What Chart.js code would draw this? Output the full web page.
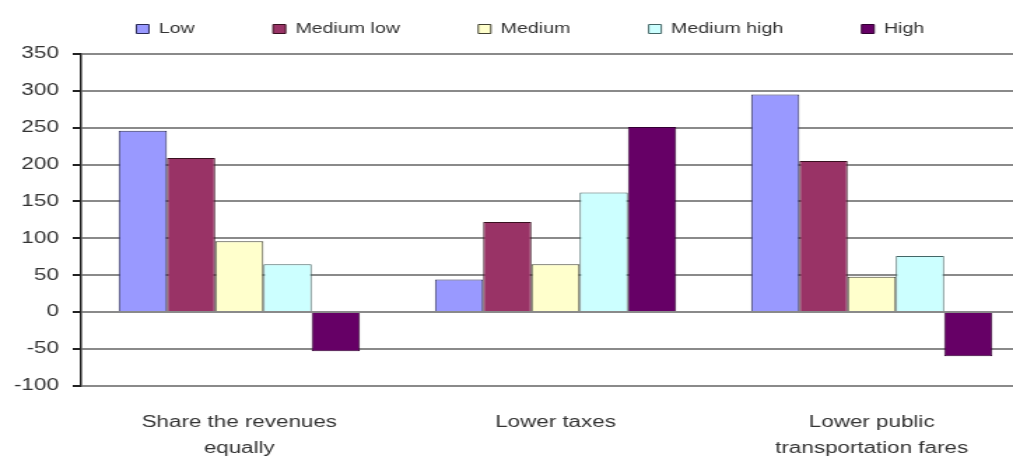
<!DOCTYPE html>
<html>
<head>
<meta charset="utf-8">
<script src="https://cdn.jsdelivr.net/npm/chart.js@4.4.0/dist/chart.umd.min.js"></script>
<style>
  html, body { margin: 0; padding: 0; background: #fff; overflow: hidden; }
  /* la imagen original esta estirada en horizontal y recortada a la derecha */
  #wrap { width: 736px; height: 458px; transform: scaleX(1.3992); transform-origin: 0 0; }
</style>
</head>
<body>
<div id="wrap"><canvas id="grafico"></canvas></div>
<script>
// categorias y series
var categorias = [["Share the revenues", "equally"], "Lower taxes", ["Lower public", "transportation fares"]];
var bajo = [246, 44, 295];
var medioBajo = [209, 122, 205];
var medio = [96, 65, 48];
var medioAlto = [65, 162, 76];
var alto = [-53, 251, -60];

var datos = {
    labels: categorias,
    datasets: [
        { label: 'Low', data: bajo, backgroundColor: '#9999FF', borderColor: '#2a2a55', borderWidth: 1 },
        { label: 'Medium low', data: medioBajo, backgroundColor: '#993366', borderColor: '#3a1020', borderWidth: 1 },
        { label: 'Medium', data: medio, backgroundColor: '#FFFFCC', borderColor: '#444433', borderWidth: 1 },
        { label: 'Medium high', data: medioAlto, backgroundColor: '#CCFFFF', borderColor: '#446666', borderWidth: 1 },
        { label: 'High', data: alto, backgroundColor: '#660066', borderColor: '#330033', borderWidth: 1 }
    ]
};

// leyenda con mucho espacio horizontal pero poca altura
var ajusteLeyenda = {
    id: 'ajusteLeyenda',
    beforeInit: function (chart) {
        var fitOriginal = chart.legend.fit;
        chart.legend.fit = function () {
            fitOriginal.call(this);
            this.height = 88;
        };
    },
    afterLayout: function (chart) {
        chart.legend.left += 11;
        chart.legend.right += 11;
    }
};

var config = {
    type: 'bar',
    data: datos,
    options: {
        responsive: true,
        maintainAspectRatio: false,
        animation: false,
        layout: { padding: { left: 0, right: 0, top: -34, bottom: -19 } },
        datasets: { bar: { categoryPercentage: 0.763, barPercentage: 1.0 } },
        plugins: {
            legend: {
                position: 'top',
                labels: {
                    boxWidth: 9, boxHeight: 9, padding: 56,
                    color: '#333', font: { family: 'Liberation Sans', size: 14 }
                }
            },
            tooltip: { enabled: false }
        },
        scales: {
            x: {
                grid: { display: false },
                border: { display: false },
                ticks: { color: '#333', padding: 16, maxRotation: 0, font: { family: 'Liberation Sans', size: 16, lineHeight: 1.6 } }
            },
            y: {
                min: -100, max: 350,
                ticks: { stepSize: 50, color: '#333', padding: 10, font: { family: 'Liberation Sans', size: 16 } },
                grid: { color: '#8a8a8a', lineWidth: 2, tickLength: 6, tickColor: '#222' },
                border: { color: '#222', width: 1.5 }
            }
        }
    },
    plugins: [ajusteLeyenda]
};

var grafico = new Chart(document.getElementById('grafico'), config);
</script>
</body>
</html>
